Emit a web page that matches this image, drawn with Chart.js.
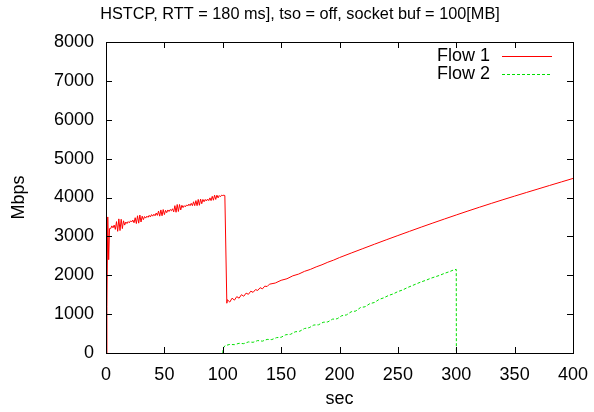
<!DOCTYPE html>
<html>
<head>
<meta charset="UTF-8">
<title>HSTCP</title>
<script src="https://cdn.jsdelivr.net/npm/chart.js"></script>
<style>
    body { margin: 0; background: #fff; }
    #wrap { width: 594px; height: 412px; }
</style>
</head>
<body>
<div id="wrap"><canvas id="c" width="594" height="412"></canvas></div>
<script>
// data
const flow1Sec = [
    0, 0.8, 1.5, 2.3, 3, 4, 5, 6, 7, 8, 9, 10, 11, 12, 13, 14, 15, 16, 17, 18, 19,
    20, 21, 22, 23, 24, 25, 26, 27, 28, 29, 30, 31, 32, 33, 34, 35, 36, 37, 38, 39,
    40, 41, 42, 43, 44, 45, 46, 47, 48, 49, 50, 51, 52, 53, 54, 55, 56, 57, 58, 59,
    60, 61, 62, 63, 64, 65, 66, 67, 68, 69, 70, 71, 72, 73, 74, 75, 76, 77, 78, 79,
    80, 81, 82, 83, 84, 85, 86, 87, 88, 89, 90, 91, 92, 93, 94, 95, 96, 97, 98, 99,
    100, 101, 101.8, 103.5, 104, 106, 108, 110, 112, 114, 116, 118, 120, 122, 124, 126,
    128, 130, 132, 134, 136, 138, 140, 145, 150, 155, 160, 165, 170, 175, 180, 185,
    190, 195, 200, 210, 220, 230, 240, 250, 260, 270, 280, 290, 300, 310, 320, 330,
    340, 350, 360, 370, 380, 390, 400
];
const flow1Mbps = [
    0, 1200, 3500, 2400, 3200, 3200, 3270, 3220, 3290, 3180, 3380, 3130, 3450, 3150, 3440, 3200, 3400, 3290, 3370, 3330, 3380,
    3350, 3400, 3370, 3420, 3350, 3480, 3330, 3530, 3340, 3550, 3370, 3520, 3430, 3510, 3470, 3520, 3490, 3540, 3500, 3560,
    3520, 3570, 3530, 3600, 3540, 3650, 3520, 3680, 3530, 3690, 3560, 3670, 3610, 3680, 3640, 3690, 3660, 3710, 3630, 3790,
    3620, 3820, 3640, 3820, 3680, 3800, 3740, 3790, 3760, 3810, 3780, 3830, 3790, 3850, 3790, 3890, 3790, 3920, 3790, 3950,
    3800, 3960, 3840, 3950, 3890, 3950, 3910, 3960, 3920, 3990, 3920, 4030, 3930, 4060, 3950, 4060, 3990, 4050, 4020, 4060,
    4050, 4060, 4050, 1280, 1370, 1310, 1410, 1360, 1450, 1410, 1500, 1460, 1540, 1510, 1590, 1560,
    1630, 1610, 1680, 1650, 1720, 1710, 1770, 1800, 1870, 1910, 1985, 2030, 2100, 2150, 2215, 2270,
    2335, 2390, 2455, 2571, 2685, 2799, 2911, 3021, 3130, 3238, 3344, 3448, 3551, 3652, 3751, 3848,
    3943, 4036, 4128, 4219, 4310, 4400, 4490
];
const flow2Sec = [
    100, 100.5, 102, 106, 110, 114, 118, 122, 126, 130, 134, 138, 142, 146, 150, 154, 158,
    162, 166, 170, 174, 178, 182, 186, 190, 194, 198, 202, 206, 210, 214, 218, 222, 226,
    230, 234, 238, 242, 246, 250, 254, 258, 262, 266, 270, 274, 278, 282, 286, 290, 294,
    298, 300, 300.1
];
const flow2Mbps = [
    0, 130, 190, 220, 215, 250, 240, 285, 275, 320, 305, 350, 345, 395, 405, 470, 480,
    545, 560, 630, 650, 720, 725, 790, 800, 870, 880, 960, 980, 1060, 1080, 1170, 1190, 1270,
    1300, 1380, 1420, 1480, 1520, 1580, 1620, 1680, 1730, 1780, 1830, 1870, 1920, 1960, 2000, 2050, 2090,
    2140, 2150, 0
];
const xTicks = [0, 50, 100, 150, 200, 250, 300, 350, 400];
const yTicks = [0, 1000, 2000, 3000, 4000, 5000, 6000, 7000, 8000];
const seriesNames = ['Flow 1', 'Flow 2'];
const chartTitle = 'HSTCP, RTT = 180 ms], tso = off, socket buf = 100[MB]';

const FONT = '"Liberation Sans", Arial, sans-serif';

function pts(xs, ys) {
    return xs.map((x, i) => ({ x: x, y: ys[i] }));
}

// gnuplot style title, frame, inward ticks and legend
const gnuFrame = {
    id: 'gnuFrame',
    afterDraw(chart) {
        const ctx = chart.ctx;
        const a = chart.chartArea;
        const xs = chart.scales.x, ys = chart.scales.y;
        ctx.save();

        ctx.font = '16.3px ' + FONT;
        ctx.fillStyle = '#000';
        ctx.textAlign = 'center';
        ctx.textBaseline = 'middle';
        ctx.fillText(chartTitle, 300, 15);

        ctx.strokeStyle = '#000';
        ctx.lineWidth = 1;
        ctx.beginPath();
        xTicks.forEach(v => {
            const px = Math.round(xs.getPixelForValue(v)) + 0.5;
            ctx.moveTo(px, a.bottom); ctx.lineTo(px, a.bottom - 6);
            ctx.moveTo(px, a.top); ctx.lineTo(px, a.top + 6);
        });
        yTicks.forEach(v => {
            const py = Math.round(ys.getPixelForValue(v)) + 0.5;
            ctx.moveTo(a.left, py); ctx.lineTo(a.left + 6, py);
            ctx.moveTo(a.right, py); ctx.lineTo(a.right - 6, py);
        });
        ctx.stroke();
        ctx.strokeRect(Math.round(a.left) + 0.5, Math.round(a.top) + 0.5,
            Math.round(a.right - a.left), Math.round(a.bottom - a.top));

        // legend
        ctx.font = '18px ' + FONT;
        ctx.textAlign = 'right';
        chart.data.datasets.forEach((ds, i) => {
            const y = 56 + i * 18;
            ctx.fillText(seriesNames[i], 490, y);
            ctx.beginPath();
            ctx.strokeStyle = ds.borderColor;
            ctx.setLineDash(ds.borderDash || []);
            ctx.moveTo(502, y + 0.5);
            ctx.lineTo(552, y + 0.5);
            ctx.stroke();
        });
        ctx.restore();
    }
};

new Chart(document.getElementById('c'), {
    type: 'scatter',
    data: {
        datasets: [
            {
                label: seriesNames[0],
                data: pts(flow1Sec, flow1Mbps),
                showLine: true,
                borderColor: '#ff0000',
                borderWidth: 1,
                pointRadius: 0,
                tension: 0
            },
            {
                label: seriesNames[1],
                data: pts(flow2Sec, flow2Mbps),
                showLine: true,
                borderColor: '#00e000',
                borderWidth: 1,
                borderDash: [3, 2],
                pointRadius: 0,
                tension: 0
            }
        ]
    },
    options: {
        responsive: false,
        animation: false,
        layout: { padding: { left: 0, right: 21, top: 42, bottom: 0 } },
        plugins: {
            legend: { display: false },
            tooltip: { enabled: false },
            title: { display: false }
        },
        scales: {
            x: {
                type: 'linear',
                min: 0,
                max: 400,
                afterFit: s => { s.height = 59; s.paddingLeft = 0; s.paddingRight = 0; },
                afterBuildTicks: s => { s.ticks = xTicks.map(v => ({ value: v })); },
                grid: { display: false, drawTicks: false },
                border: { display: false },
                ticks: {
                    color: '#000', padding: 11, maxRotation: 0,
                    font: { family: FONT, size: 18 },
                    callback: v => String(v)
                },
                title: {
                    display: true, text: 'sec', color: '#000',
                    font: { family: FONT, size: 18 },
                    padding: { top: 0, bottom: 2 }
                }
            },
            y: {
                type: 'linear',
                min: 0,
                max: 8000,
                afterFit: s => { s.width = 106; s.paddingTop = 0; s.paddingBottom = 0; },
                afterBuildTicks: s => { s.ticks = yTicks.map(v => ({ value: v })); },
                grid: { display: false, drawTicks: false },
                border: { display: false },
                ticks: {
                    color: '#000', padding: 12,
                    font: { family: FONT, size: 18 },
                    callback: v => String(v)
                },
                title: {
                    display: true, text: 'Mbps', color: '#000',
                    font: { family: FONT, size: 18 },
                    padding: { top: 8, bottom: 0 }
                }
            }
        }
    },
    plugins: [gnuFrame]
});
</script>
</body>
</html>
